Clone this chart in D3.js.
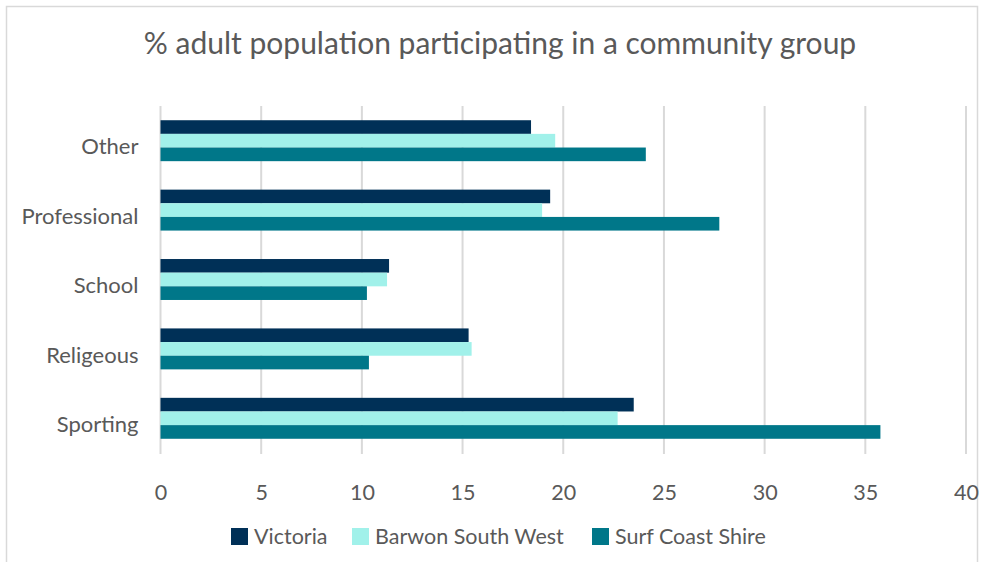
<!DOCTYPE html>
<html>
<head>
<meta charset="utf-8">
<script src="https://cdn.jsdelivr.net/npm/d3@7"></script>
<style>
  html, body { margin: 0; padding: 0; background: #fff; }
  svg { display: block; font-family: Lato, "Open Sans", sans-serif; }
</style>
</head>
<body>
<svg id="chart" width="984" height="562"></svg>
<script>
// Community group participation (% of adults), by group type and region
const categories = ["Other", "Professional", "School", "Religeous", "Sporting"];
const seriesNames = ["Victoria", "Barwon South West", "Surf Coast Shire"];
const victoria = [18.4, 19.35, 11.35, 15.3, 23.5];
const barwonSouthWest = [19.6, 18.95, 11.25, 15.45, 22.7];
const surfCoastShire = [24.1, 27.75, 10.25, 10.35, 35.75];
const xTicks = [0, 5, 10, 15, 20, 25, 30, 35, 40];
const colors = ["#003057", "#A1F1EA", "#007789"];

const seriesValues = [victoria, barwonSouthWest, surfCoastShire];
const rows = categories.map((c, i) => ({
  category: c,
  values: seriesNames.map((s, j) => ({ series: s, value: seriesValues[j][i], idx: j }))
}));

const svg = d3.select("#chart");
const textColor = "#595959";
const gridColor = "#d9d9d9";

// Chart frame
svg.append("rect")
  .attr("x", 6.5).attr("y", 6.5)
  .attr("width", 971).attr("height", 580)
  .attr("fill", "none").attr("stroke", "#d9d9d9").attr("stroke-width", 1.5);

const plot = { left: 160.5, right: 966, top: 106, bottom: 453 };

const x = d3.scaleLinear().domain([0, 40]).range([plot.left, plot.right]);
const y = d3.scaleBand().domain(categories)
  .range([plot.top, plot.bottom])
  .paddingInner(0.41).paddingOuter(0.205);
const ySeries = d3.scaleBand().domain(seriesNames).range([0, y.bandwidth()]);
const color = d3.scaleOrdinal().domain(seriesNames).range(colors);

// Title
svg.append("text")
  .attr("x", 500).attr("y", 54)
  .attr("text-anchor", "middle")
  .attr("fill", textColor)
  .style("font-size", "30px")
  .text("% adult population participating in a community group");

// Vertical gridlines
svg.append("g")
  .selectAll("line")
  .data(xTicks)
  .join("line")
  .attr("x1", d => x(d)).attr("x2", d => x(d))
  .attr("y1", plot.top).attr("y2", plot.bottom + 1)
  .attr("stroke", gridColor).attr("stroke-width", 2);

// Bars
const groups = svg.append("g")
  .selectAll("g")
  .data(rows)
  .join("g")
  .attr("transform", d => `translate(0,${y(d.category)})`);

groups.selectAll("rect")
  .data(d => d.values)
  .join("rect")
  .attr("x", x(0))
  .attr("y", d => ySeries(d.series))
  .attr("width", d => x(d.value) - x(0))
  .attr("height", ySeries.bandwidth())
  .attr("fill", d => color(d.series));

// Category axis labels
const yAxis = d3.axisLeft(y).tickSize(0).tickPadding(22);
const gy = svg.append("g").attr("transform", `translate(${plot.left},0)`).call(yAxis);
gy.select(".domain").remove();
gy.selectAll("text")
  .attr("fill", textColor)
  .attr("dy", "0.62em")
  .attr("y", 0)
  .style("font-size", "22px")
  .style("font-family", "Lato, 'Open Sans', sans-serif");

// Value axis labels
const xAxis = d3.axisBottom(x).tickValues(xTicks).tickSize(0).tickPadding(32);
const gx = svg.append("g").attr("transform", `translate(0,${plot.bottom})`).call(xAxis);
gx.select(".domain").remove();
gx.selectAll("text")
  .attr("fill", textColor)
  .style("font-size", "21.5px")
  .style("font-family", "Lato, 'Open Sans', sans-serif");

// Legend
const legendItems = [
  { name: seriesNames[0], x: 231 },
  { name: seriesNames[1], x: 352 },
  { name: seriesNames[2], x: 592 }
];
const legend = svg.append("g").selectAll("g")
  .data(legendItems)
  .join("g")
  .attr("transform", d => `translate(${d.x},528)`);
legend.append("rect")
  .attr("width", 17).attr("height", 17)
  .attr("fill", d => color(d.name));
legend.append("text")
  .attr("x", 23).attr("y", 16)
  .attr("fill", textColor)
  .style("font-size", "21.5px")
  .text(d => d.name);
</script>
</body>
</html>
